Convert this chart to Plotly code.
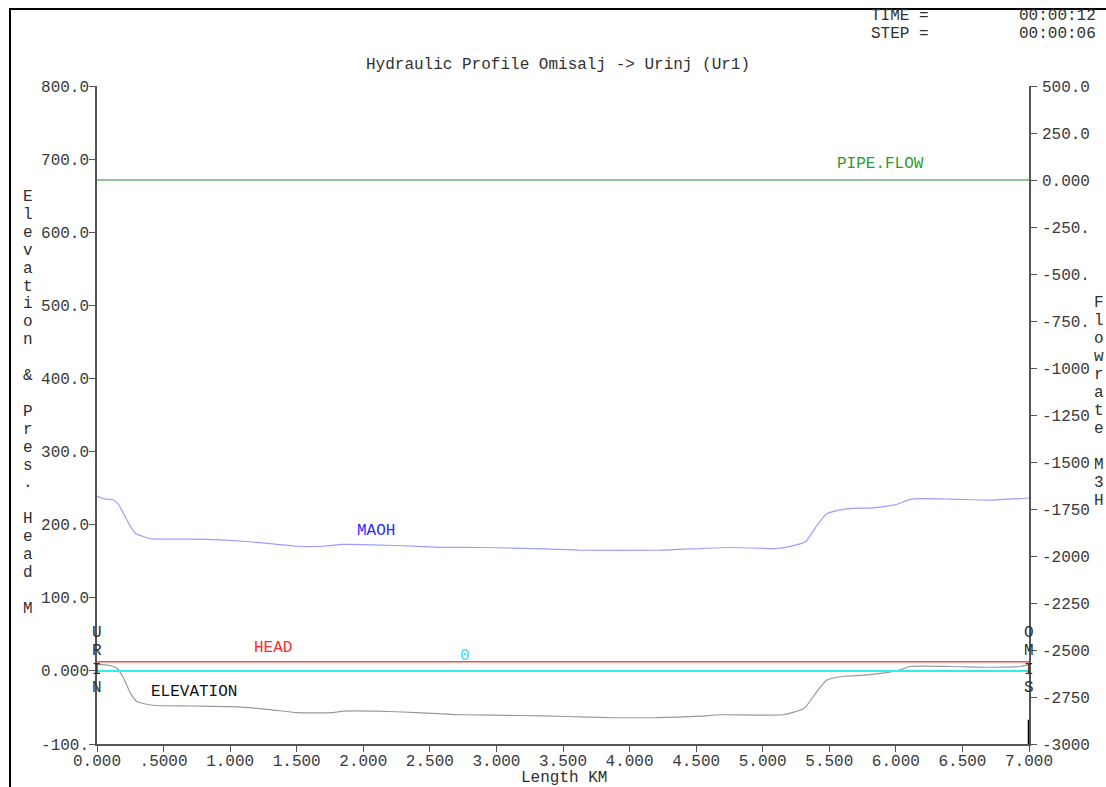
import plotly.graph_objects as go

# ---------------- data ----------------
elev_km = [0.0, 0.05, 0.12, 0.15, 0.20, 0.25, 0.30, 0.42, 0.70, 1.02, 1.30, 1.50, 1.77, 1.85,
           2.10, 2.40, 2.73, 3.20, 3.53, 3.85, 4.20, 4.53, 4.68, 5.15, 5.31, 5.40, 5.48, 5.61,
           5.76, 5.90, 6.01, 6.11, 6.41, 6.71, 6.93, 7.0]
elev_m = [9, 8.5, 6, 3.5, -10, -30, -42, -47, -48, -49, -53, -57, -57, -55,
          -55, -57, -60, -61, -62.4, -64, -64, -62, -60, -60, -51.5, -30, -12.7, -7.3,
          -5.9, -3, 0, 6, 6, 5, 6, 8.7]

maoh_km = [0.0, 0.05, 0.12, 0.16, 0.20, 0.25, 0.29, 0.40, 0.82, 1.12, 1.50, 1.70, 1.85, 2.25,
           2.58, 2.88, 3.36, 3.63, 4.21, 4.75, 5.10, 5.20, 5.32, 5.40, 5.48, 5.64, 5.83, 5.99,
           6.12, 6.41, 6.71, 7.0]
maoh_m = [239, 235.5, 234, 228, 215, 198, 188, 181, 180, 177, 170.5, 170.5, 173, 171.5,
          169, 168.8, 167, 165, 165, 168.8, 167.4, 170, 176.5, 197, 215, 222, 223, 227,
          235, 235, 233.5, 236.5]

head_km = [0.0, 7.0]
head_m = [12.5, 12.5]

zero_km = [0.0, 7.0]
zero_m = [0, 0]

flow_km = [0.0, 7.0]
flow_m3h = [0, 0]

end_mark_km = [7.0, 7.0]
end_mark_m = [-67, -100]

x_ticks = [0, 0.5, 1, 1.5, 2, 2.5, 3, 3.5, 4, 4.5, 5, 5.5, 6, 6.5, 7]
x_ticktext = ["0.000", ".5000", "1.000", "1.500", "2.000", "2.500", "3.000", "3.500",
              "4.000", "4.500", "5.000", "5.500", "6.000", "6.500", "7.000"]
y_ticks = [800, 700, 600, 500, 400, 300, 200, 100, 0, -100]
y_ticktext = ["800.0", "700.0", "600.0", "500.0", "400.0", "300.0", "200.0", "100.0", "0.000", "-100."]
y2_ticks = [500, 250, 0, -250, -500, -750, -1000, -1250, -1500, -1750, -2000, -2250, -2500, -2750, -3000]
y2_ticktext = ["500.0", "250.0", "0.000", "-250.", "-500.", "-750.", "-1000", "-1250", "-1500",
               "-1750", "-2000", "-2250", "-2500", "-2750", "-3000"]

title_text = "Hydraulic Profile Omisalj -> Urinj (Ur1)"
left_title = "Elevation & Pres. Head M"
right_title = "Flowrate M3H"
start_node = "URIN"
end_node = "OMIS"

# ---------------- layout helpers ----------------
W, H = 1106, 787
L, R, T, B = 97, 1029, 86, 744
FONT = "Liberation Mono, Courier New, monospace"


def px(x):
    return (x - L) / (R - L)


def py(y):
    return (B - y) / (B - T)


fig = go.Figure()
fig.add_trace(go.Scatter(x=elev_km, y=elev_m, mode="lines", name="ELEVATION",
                         line=dict(color="#9a9a9a", width=1.2, shape="spline", smoothing=0.5)))
fig.add_trace(go.Scatter(x=maoh_km, y=maoh_m, mode="lines", name="MAOH",
                         line=dict(color="#9d9dff", width=1.2, shape="spline", smoothing=0.5)))
fig.add_trace(go.Scatter(x=zero_km, y=zero_m, mode="lines", name="0",
                         line=dict(color="#30eef0", width=2)))
fig.add_trace(go.Scatter(x=head_km, y=head_m, mode="lines", name="HEAD",
                         line=dict(color="#f05050", width=1.5)))
fig.add_trace(go.Scatter(x=end_mark_km, y=end_mark_m, mode="lines", showlegend=False,
                         line=dict(color="#000000", width=2.5)))
fig.add_trace(go.Scatter(x=flow_km, y=flow_m3h, mode="lines", name="PIPE.FLOW", yaxis="y2",
                         line=dict(color="#2a8a2a", width=1.2)))

ann = []


def add_text(text, x, y, color="#303030", xanchor="center", size=16):
    ann.append(dict(text=text, x=px(x), y=py(y), xref="paper", yref="paper",
                    xanchor=xanchor, yanchor="middle", showarrow=False,
                    font=dict(family=FONT, size=size, color=color)))


add_text(title_text, 558, 65)
add_text("TIME =", 869, 16, xanchor="left")
add_text("STEP =", 869, 34, xanchor="left")
add_text("00:00:12", 1098, 16, xanchor="right")
add_text("00:00:06", 1098, 34, xanchor="right")
add_text("Length KM", 564, 778)
add_text("PIPE.FLOW", 880, 164, color="#2a9a2a")
add_text("MAOH", 376, 531, color="#2a2aff")
add_text("HEAD", 273, 648, color="#ff2a2a")
add_text("0", 465, 656, color="#30e0f0")
add_text("ELEVATION", 194, 692, color="#101010")

for i, ch in enumerate(left_title):
    if ch.strip():
        add_text(ch, 28, 197 + i * 17.9)
for i, ch in enumerate(right_title):
    if ch.strip():
        add_text(ch, 1099, 303 + i * 18)
for i, ch in enumerate(start_node):
    add_text(ch, 97, 633 + i * 18.3)
for i, ch in enumerate(end_node):
    add_text(ch, 1029, 633 + i * 18.3)

shapes = [
    dict(type="line", xref="paper", yref="paper", x0=px(10), x1=px(10), y0=py(9), y1=py(790),
         line=dict(color="black", width=2)),
    dict(type="line", xref="paper", yref="paper", x0=px(9), x1=px(1110), y0=py(9), y1=py(9),
         line=dict(color="black", width=2)),
]

axis_common = dict(showgrid=False, zeroline=False, showline=True, linecolor="#555555",
                   linewidth=1.5, ticks="outside", ticklen=6, tickcolor="#555555",
                   tickfont=dict(family=FONT, size=16, color="#3a3a3a"))

fig.update_layout(
    width=W, height=H,
    margin=dict(l=L, r=W - R, t=T, b=H - B, pad=0),
    paper_bgcolor="white", plot_bgcolor="white",
    showlegend=False,
    xaxis=dict(range=[0, 7], tickvals=x_ticks, ticktext=x_ticktext, ticklabelstandoff=-5,
               **axis_common),
    yaxis=dict(range=[-100, 800], tickvals=y_ticks, ticktext=y_ticktext, ticklabelstandoff=-3,
               **axis_common),
    yaxis2=dict(range=[-3000, 500], tickvals=y2_ticks, ticktext=y2_ticktext, overlaying="y",
                side="right", ticklabelstandoff=2, **axis_common),
    annotations=ann,
    shapes=shapes,
)

fig.write_html("out.html", config={"displayModeBar": False},
               post_script="document.body.style.margin='0';document.body.style.overflow='hidden';")
